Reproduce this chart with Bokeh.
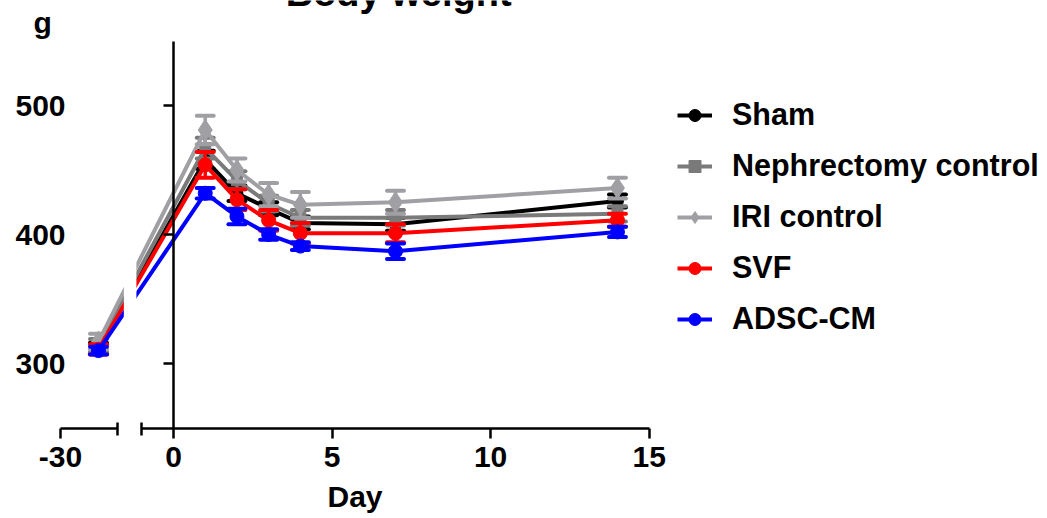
from bokeh.plotting import figure
from bokeh.models import (Range1d, LinearAxis, FixedTicker, CustomJSTickFormatter,
                          Legend, LegendItem, Label, ColumnDataSource)
from bokeh.embed import file_html
from bokeh.resources import INLINE

# ---------------- data ----------------
days = [-22, 1, 2, 3, 4, 7, 14]
series_names = ["Sham", "Nephrectomy control", "IRI control", "SVF", "ADSC-CM"]

sham_mean = [312, 458, 432, 420, 409, 408, 426]
sham_sem = [4, 7, 6, 5, 5, 5, 5]
neph_mean = [314, 467, 442, 424, 413, 413, 416]
neph_sem = [5, 8, 7, 6, 6, 6, 6]
iri_mean = [317, 481, 450, 431, 423, 425, 436]
iri_sem = [6, 11, 9, 9, 10, 9, 8]
svf_mean = [311, 454, 427, 411, 401, 401, 411]
svf_sem = [4, 10, 8, 8, 8, 7, 5]
adsc_mean = [310, 432, 414, 400, 391, 387, 402]
adsc_sem = [3, 4, 6, 4, 3, 6, 4]

y_ticks = [300, 400, 500]
x_ticks_right = [0, 5, 10, 15]
x_tick_left = -30

# ---------------- broken x axis ----------------
LEFT_SEG = (-30, -18)      # days shown in the left (compressed) segment
RIGHT_SEG = (-1, 15)       # days shown in the right segment
LEFT_U = (-3.564, -1.766)  # where the left segment sits, in right-segment units


def to_u(d):
    if d >= RIGHT_SEG[0]:
        return d
    a0, a1 = LEFT_SEG
    u0, u1 = LEFT_U
    return u0 + (d - a0) * (u1 - u0) / (a1 - a0)


FONT = "Liberation Sans"

p = figure(width=1040, height=516,
           x_range=Range1d(-5.456, 27.341), y_range=Range1d(181.4, 581.4),
           output_backend="svg", toolbar_location=None,
           x_axis_type=None, y_axis_type=None,
           min_border=0, min_border_left=0, min_border_right=0,
           min_border_top=0, min_border_bottom=0)
p.outline_line_color = None
p.background_fill_color = "white"
p.border_fill_color = "white"


def style_axis(ax):
    ax.axis_line_width = 2.5
    ax.axis_line_color = "black"
    ax.major_tick_line_width = 2.5
    ax.minor_tick_line_width = 2.5
    ax.major_label_text_font = FONT
    ax.major_label_text_font_style = "bold"
    ax.major_label_text_font_size = "30px"
    ax.major_label_text_color = "black"
    ax.axis_label_text_font = FONT
    ax.axis_label_text_font_style = "bold"
    ax.axis_label_text_font_size = "30px"
    ax.axis_label_text_color = "black"


# y axis at day 0
yaxis = LinearAxis(fixed_location=0, bounds=(250, 550),
                   ticker=FixedTicker(ticks=y_ticks, minor_ticks=[]))
style_axis(yaxis)
yaxis.major_tick_out = 10
yaxis.major_tick_in = 0
yaxis.minor_tick_line_color = None
yaxis.major_label_standoff = 98
p.add_layout(yaxis, "left")

# left segment of x axis
xl = LinearAxis(fixed_location=250, bounds=LEFT_U,
                ticker=FixedTicker(ticks=[to_u(x_tick_left)], minor_ticks=[to_u(LEFT_SEG[1])]),
                formatter=CustomJSTickFormatter(
                    args=dict(d0=LEFT_SEG[0], d1=LEFT_SEG[1], u0=LEFT_U[0], u1=LEFT_U[1]),
                    code="return Math.round(d0 + (tick - u0) * (d1 - d0) / (u1 - u0)).toString();"))
style_axis(xl)
xl.major_tick_out = 10
xl.major_tick_in = 0
xl.minor_tick_out = 7
xl.minor_tick_in = 6
xl.major_label_standoff = 9
p.add_layout(xl, "below")

# right segment of x axis
xr = LinearAxis(fixed_location=250, bounds=RIGHT_SEG,
                ticker=FixedTicker(ticks=x_ticks_right, minor_ticks=[RIGHT_SEG[0]]))
style_axis(xr)
xr.major_tick_out = 10
xr.major_tick_in = 0
xr.minor_tick_out = 7
xr.minor_tick_in = 6
xr.major_label_standoff = 9
p.add_layout(xr, "below")

# axis title spanning both segments
xt = LinearAxis(fixed_location=250, bounds=(to_u(LEFT_SEG[0]), RIGHT_SEG[1]),
                ticker=FixedTicker(ticks=[], minor_ticks=[]), axis_label="Day")
style_axis(xt)
xt.axis_line_color = None
xt.major_tick_line_color = None
xt.minor_tick_line_color = None
xt.axis_label_standoff = 51
p.add_layout(xt, "below")

# ---------------- series ----------------
means = [sham_mean, neph_mean, iri_mean, svf_mean, adsc_mean]
sems = [sham_sem, neph_sem, iri_sem, svf_sem, adsc_sem]
colors = ["#000000", "#7a7a7a", "#a0a0a4", "#ff0000", "#0000ff"]
markers = ["circle", "square", "diamond", "circle", "circle"]
msizes = [12, 11, 21, 14, 14]

items = []
xu = [to_u(d) for d in days]
for name, m, s, c, mk, ms in zip(series_names, means, sems, colors, markers, msizes):
    src = ColumnDataSource(dict(x=xu, y=m,
                                lo=[a - b for a, b in zip(m, s)],
                                hi=[a + b for a, b in zip(m, s)]))
    p.segment(x0="x", y0="lo", x1="x", y1="hi", source=src, line_color=c, line_width=3.5)
    p.scatter(x="x", y="hi", source=src, marker="dash", size=17, line_color=c,
              line_width=4, line_cap="round")
    p.scatter(x="x", y="lo", source=src, marker="dash", size=17, line_color=c,
              line_width=4, line_cap="round")
    lr = p.line(x="x", y="y", source=src, line_color=c, line_width=4, line_join="round")
    sr = p.scatter(x="x", y="y", source=src, marker=mk, size=ms, fill_color=c, line_color=c)
    items.append(LegendItem(label=name, renderers=[lr, sr]))

# white break across the data lines
gap_l = LEFT_U[1] + 0.2
gap_r = RIGHT_SEG[0] - 0.17
p.quad(left=[gap_l], right=[gap_r], bottom=[250], top=[581.4], fill_color="white",
       line_color=None)

legend = Legend(items=items, location=(677, 180))
legend.label_text_font = FONT
legend.label_text_font_style = "bold"
legend.label_text_font_size = "30.5px"
legend.label_text_color = "black"
legend.glyph_width = 35
legend.glyph_height = 30
legend.label_height = 30
legend.label_standoff = 20
legend.spacing = 16
legend.padding = 0
legend.margin = 0
legend.border_line_color = None
legend.background_fill_alpha = 0
p.add_layout(legend)

p.add_layout(Label(x=to_u(LEFT_SEG[0]) - 0.85, y=564.5, text="g", text_font=FONT,
                   text_font_style="bold", text_font_size="30px", text_color="black",
                   text_baseline="alphabetic"))
p.add_layout(Label(x=7.1, y=587.0, text="Body weight", text_font=FONT,
                   text_font_style="bold", text_font_size="38px", text_color="black",
                   text_align="center", text_baseline="alphabetic"))

open("out.html", "w").write(file_html(p, INLINE))
